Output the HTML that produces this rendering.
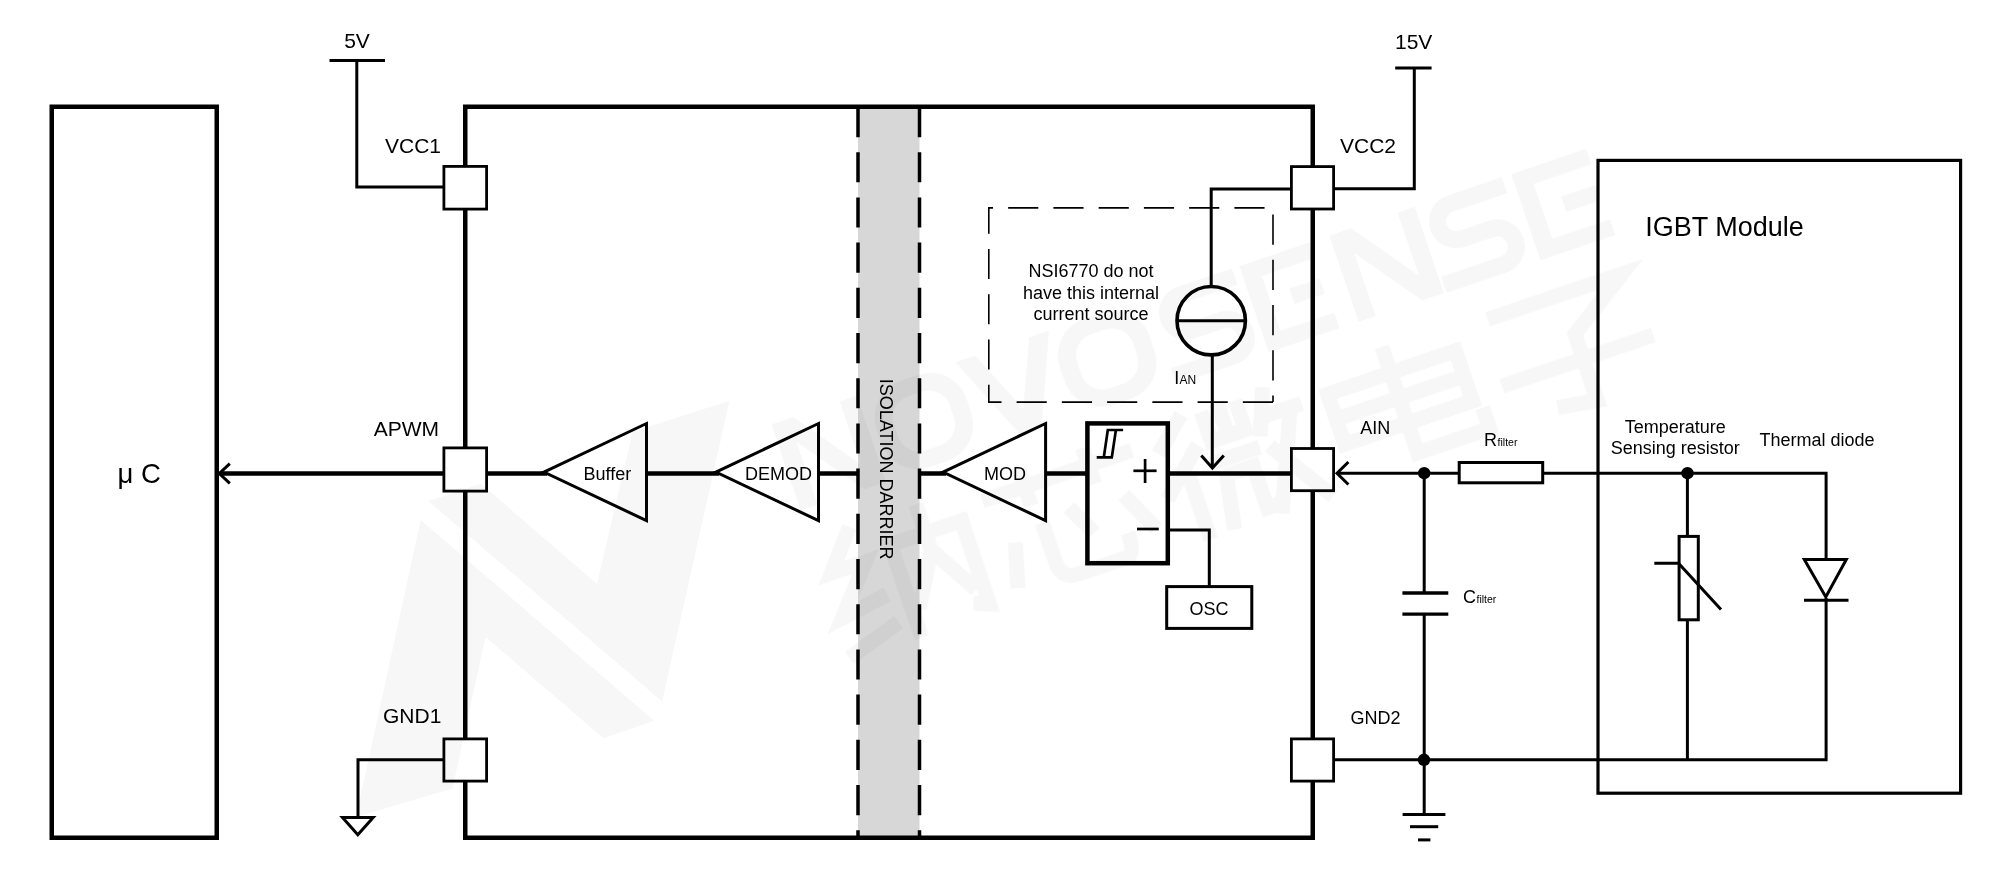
<!DOCTYPE html>
<html><head><meta charset="utf-8"><title>Diagram</title>
<style>
html,body{margin:0;padding:0;background:#fff;}
body{width:2000px;height:881px;overflow:hidden;}
svg{display:block;will-change:transform;}
text{font-family:"Liberation Sans",sans-serif;fill:#000;}
.t20{font-size:21px;}
.t18{font-size:18px;}
</style></head><body>
<svg width="2000" height="881" viewBox="0 0 2000 881">
<rect width="2000" height="881" fill="#fff"/>
<!-- isolation barrier -->
<rect x="858" y="107" width="61.5" height="731" fill="#d7d7d7"/>
<g stroke="#000" fill="none" stroke-width="3.5" stroke-dasharray="30.13 15.07">
<line x1="858" y1="107" x2="858" y2="838"/>
<line x1="919.5" y1="107" x2="919.5" y2="838"/>
</g>
<!-- uC box -->
<rect x="51.75" y="106.75" width="165" height="731" fill="none" stroke="#000" stroke-width="4.5"/>
<!-- IC box -->
<rect x="465.25" y="106.75" width="847.5" height="731" fill="none" stroke="#000" stroke-width="4.5"/>
<!-- IGBT box -->
<rect x="1598" y="160.4" width="362.6" height="632.8" fill="none" stroke="#000" stroke-width="3.2"/>
<!-- thick signal lines -->
<g stroke="#000" stroke-width="4.5" fill="none">
<line x1="220" y1="473.5" x2="547" y2="473.5"/>
<line x1="647" y1="473.5" x2="719" y2="473.5"/>
<line x1="819" y1="473.5" x2="857" y2="473.5"/>
<line x1="921" y1="473.5" x2="946" y2="473.5"/>
<line x1="1046" y1="473.5" x2="1086" y2="473.5"/>
<line x1="1169" y1="473.5" x2="1291" y2="473.5"/>
</g>
<!-- arrow head uC -->
<polyline points="229.8,463.6 219.3,473.5 229.8,483.4" fill="none" stroke="#000" stroke-width="3"/>
<!-- thin wires -->
<g stroke="#000" stroke-width="3" fill="none">
<line x1="329.5" y1="60.5" x2="385" y2="60.5"/>
<polyline points="356.8,60.5 356.8,187 443,187"/>
<polyline points="443,759.8 358,759.8 358,817"/>
<polygon points="342.5,817.5 373.2,817.5 357.8,834.8" stroke-width="3"/>
<line x1="1395.2" y1="68" x2="1431.6" y2="68"/>
<polyline points="1414.3,68 1414.3,188.7 1335,188.7"/>
<polyline points="1290,189 1211.2,189 1211.2,287"/>
<line x1="1212.3" y1="355" x2="1212.3" y2="467"/>
<polyline points="1201.3,455.5 1212.4,468 1223.8,455.5"/>
<polyline points="1169,530 1209.3,530 1209.3,586"/>
<line x1="1337" y1="473.2" x2="1458" y2="473.2"/>
<polyline points="1348.4,462 1337,473.2 1348.4,484.5"/>
<polyline points="1544,473.2 1826.1,473.2 1826.1,559.5"/>
<polyline points="1826.1,598 1826.1,759.8 1335,759.8"/>
<line x1="1424.2" y1="473.2" x2="1424.2" y2="593"/>
<line x1="1424.2" y1="614.2" x2="1424.2" y2="814.4"/>
<line x1="1402.4" y1="593" x2="1448.3" y2="593" stroke-width="3.3"/>
<line x1="1402.4" y1="614.2" x2="1448.3" y2="614.2" stroke-width="3.3"/>
<line x1="1402.6" y1="814.4" x2="1445.4" y2="814.4"/>
<line x1="1410" y1="826.7" x2="1438.2" y2="826.7"/>
<line x1="1418" y1="839.9" x2="1430.4" y2="839.9"/>
<line x1="1687.4" y1="473.2" x2="1687.4" y2="536"/>
<line x1="1687.4" y1="620" x2="1687.4" y2="759.6"/>
<polyline points="1654.3,563.3 1678.5,563.3 1721,609.4"/>
<line x1="1804" y1="600.3" x2="1848.5" y2="600.3"/>
</g>
<!-- pads -->
<g stroke="#000" stroke-width="2.8" fill="#fff">
<rect x="443.9" y="166.4" width="42.7" height="42.7"/>
<rect x="443.9" y="447.9" width="42.7" height="43.2"/>
<rect x="443.9" y="738.9" width="42.7" height="42.2"/>
<rect x="1291.4" y="166.6" width="42.2" height="42.4"/>
<rect x="1291.4" y="448.5" width="42.2" height="42.2"/>
<rect x="1291.4" y="738.9" width="42.2" height="42.2"/>
</g>
<!-- triangles -->
<g stroke="#000" stroke-width="3" fill="none" stroke-linejoin="miter">
<polygon points="543.9,472.1 646.5,423.5 646.5,520.6"/>
<polygon points="715.9,472.1 818.5,423.5 818.5,520.6"/>
<polygon points="943,472.1 1045.6,423.5 1045.6,520.6"/>
</g>
<!-- comparator -->
<rect x="1087.4" y="423.4" width="80.4" height="139.8" fill="none" stroke="#000" stroke-width="4.5"/>
<g stroke="#000" stroke-width="2.7" fill="none">
<path d="M1096.7,457.4H1111.8L1115.9,430H1123.1M1115.9,430H1107.8L1103.8,457.4" stroke-linejoin="miter"/>
<line x1="1133.4" y1="470.8" x2="1156.6" y2="470.8"/>
<line x1="1145.1" y1="459" x2="1145.1" y2="483"/>
<line x1="1137" y1="529" x2="1158.8" y2="529"/>
</g>
<!-- OSC -->
<rect x="1166.7" y="586.6" width="85.1" height="41.8" fill="none" stroke="#000" stroke-width="3"/>
<!-- current source -->
<circle cx="1211.2" cy="320.7" r="34.2" fill="none" stroke="#000" stroke-width="3.6"/>
<line x1="1177" y1="320.7" x2="1245" y2="320.7" stroke="#000" stroke-width="3"/>
<!-- dashed note box -->
<path d="M1273,402.1 H988.8 V207.9 H1273 V402.1" fill="none" stroke="#000" stroke-width="1.6" stroke-dasharray="30.15 15.1"/>
<!-- resistor -->
<rect x="1459.2" y="462.5" width="83.5" height="20.3" fill="#fff" stroke="#000" stroke-width="3"/>
<!-- thermistor -->
<rect x="1679.1" y="536.4" width="19.2" height="83.4" fill="none" stroke="#000" stroke-width="3"/>
<!-- diode -->
<polygon points="1804.3,559.5 1846.3,559.5 1825.8,597" fill="none" stroke="#000" stroke-width="3"/>
<!-- dots -->
<circle cx="1424.2" cy="473.2" r="6.2"/>
<circle cx="1687.5" cy="473.2" r="6.2"/>
<circle cx="1424" cy="759.8" r="6.2"/>
<!-- text -->
<text class="t20" x="344.2" y="48">5V</text>
<text class="t20" x="1395" y="48.6">15V</text>
<text class="t20" x="385" y="153.3">VCC1</text>
<text class="t20" x="373.7" y="436">APWM</text>
<text class="t20" x="383" y="723.3">GND1</text>
<text class="t20" x="1340" y="153.2">VCC2</text>
<text class="t18" x="1360.3" y="433.5">AIN</text>
<text class="t18" x="1350.5" y="724.4">GND2</text>
<text x="117.6" y="483" font-size="27.5">μ C</text>
<text class="t18" x="583.5" y="480.3">Buffer</text>
<text class="t18" x="745" y="480.3">DEMOD</text>
<text class="t18" x="984" y="480.3">MOD</text>
<text class="t18" x="1189.5" y="614.5">OSC</text>
<text class="t18" text-anchor="middle" x="1091" y="277.2">NSI6770 do not</text>
<text class="t18" text-anchor="middle" x="1091" y="298.7">have this internal</text>
<text class="t18" text-anchor="middle" x="1091" y="320.2">current source</text>
<text class="t18" x="1174.3" y="384">I<tspan font-size="12" dx="0.3">AN</tspan></text>
<text class="t18" x="1484" y="446.3">R<tspan font-size="10.5" dx="0.6">filter</tspan></text>
<text class="t18" x="1463.1" y="603">C<tspan font-size="10.5" dx="0.4">filter</tspan></text>
<text class="t18" text-anchor="middle" x="1675.2" y="432.8">Temperature</text>
<text class="t18" text-anchor="middle" x="1675.2" y="454.4">Sensing resistor</text>
<text class="t18" x="1759.5" y="446.2">Thermal diode</text>
<text x="1645.3" y="235.8" font-size="27">IGBT Module</text>
<text class="t18" transform="translate(880,378.8) rotate(90)">ISOLATION DARRIER</text>
<!-- watermark overlay -->
<g opacity="0.034" fill="#000"><polygon points="420.7,520 654.3,720.8 603.5,738.2 485.5,637 452.5,788.5 356,817"/><polygon points="428.2,501 662.1,701.4 729.5,400.7 632.6,431.8 597,584 481,483.7"/><g transform="matrix(0.9472,-0.3206,0.3206,0.9472,1511.3,174.1)"><path d="M-781,0h18v91h-18z M-709,0h18v91h-18z M-781,0h23l67,91h-23z"/><path fill-rule="evenodd" d="M-645,0h19a38,38 0 0 1 38,38v15a38,38 0 0 1 -38,38h-19a38,38 0 0 1 -38,-38v-15a38,38 0 0 1 38,-38z M-643,17h15a22,22 0 0 1 22,22v13a22,22 0 0 1 -22,22h-15a22,22 0 0 1 -22,-22v-13a22,22 0 0 1 22,-22z"/><path d="M-587,0h21l28.5,66l28.5,-66h21l-39,91h-21z"/><path fill-rule="evenodd" d="M-451.5,0h19a38,38 0 0 1 38,38v15a38,38 0 0 1 -38,38h-19a38,38 0 0 1 -38,-38v-15a38,38 0 0 1 38,-38z M-449.5,17h15a22,22 0 0 1 22,22v13a22,22 0 0 1 -22,22h-15a22,22 0 0 1 -22,-22v-13a22,22 0 0 1 22,-22z"/><path fill="none" stroke="#000" stroke-width="17" d="M-294.9,8.25H-352.4A18.6,18.6 0 0 0 -352.4,45.5H-321.5A18.9,18.9 0 0 1 -321.5,83.3H-384.5"/><path d="M-287,0h75v16.5h-57v58h57v16.5h-75z M-247,37.3h32v16.2h-32z"/><path d="M-192,0h18v91h-18z M-120,0h18v91h-18z M-192,0h23l67,91h-23z"/><path fill="none" stroke="#000" stroke-width="17" d="M-9.800000000000011,8.25H-67.30000000000001A18.6,18.6 0 0 0 -67.30000000000001,45.5H-36.400000000000006A18.9,18.9 0 0 1 -36.400000000000006,83.3H-99.4"/><path d="M0,0h79v16.5h-61v58h61v16.5h-79z M40,37.3h36v16.2h-36z"/><g transform="translate(-782,122)" fill="none" stroke="#000" stroke-width="15"><path d="M42,0L10,38H46L6,84L56,76"/><path d="M0,124L58,106"/><path d="M68,30H158"/><path d="M75,23V128"/><path d="M150,23V118L135,112"/><path d="M112,0V48L82,100"/><path d="M112,48L142,100"/></g><g transform="translate(-606,122)" fill="none" stroke="#000" stroke-width="15"><path d="M0,18H158"/><path d="M45,0V38"/><path d="M112,0V38"/><path d="M18,68L6,112"/><path d="M50,58V100Q50,118 68,118H118Q128,118 128,95"/><path d="M80,52L96,84"/><path d="M136,58L156,100"/></g><g transform="translate(-430,122)" fill="none" stroke="#000" stroke-width="15"><path d="M40,0L6,30"/><path d="M46,34L0,76"/><path d="M28,60V128"/><path d="M60,4V35"/><path d="M78,0V35"/><path d="M96,4V35"/><path d="M53,35H103"/><path d="M52,56H104"/><path d="M64,70L54,126"/><path d="M62,72H92V116H106"/><path d="M126,0L108,46"/><path d="M118,28H158"/><path d="M146,28L104,126"/><path d="M114,58L158,126"/></g><g transform="translate(-252,122)" fill="none" stroke="#000" stroke-width="15"><path d="M7.5,27.5H142.5V80.5H7.5z"/><path d="M7.5,54H142.5"/><path d="M74,0V112H150V90"/></g><g transform="translate(-77,122)" fill="none" stroke="#000" stroke-width="15"><path d="M8,8H150L86,50V120L46,114"/><path d="M0,76H160"/></g></g></g>
</svg>
</body></html>
